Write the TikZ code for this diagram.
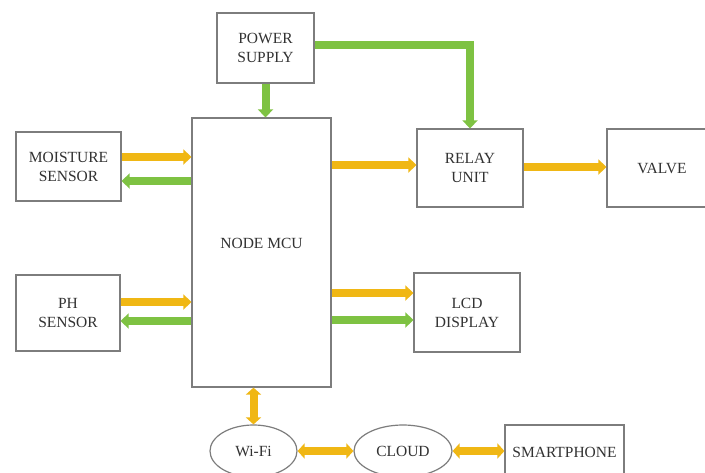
\documentclass[tikz,border=0pt]{standalone}
\usepackage{fontspec}
\setmainfont{Liberation Serif}
\usetikzlibrary{arrows.meta,shapes.geometric}
\definecolor{arrorange}{RGB}{240,183,20}
\definecolor{arrgreen}{RGB}{126,194,66}
\definecolor{boxgray}{RGB}{125,125,125}
\definecolor{txtgray}{RGB}{50,50,50}
\tikzset{
  blk/.style={draw=boxgray, line width=1.2pt, fill=white, inner sep=0pt, align=center,
    text=txtgray, font=\fontsize{15.5}{19}\selectfont},
  ell/.style={ellipse, draw=boxgray, line width=1.2pt, fill=white, inner sep=0pt,
    text=txtgray, font=\fontsize{15.5}{19}\selectfont},
  lbl/.style={text=txtgray, font=\fontsize{15.5}{19}\selectfont, inner sep=0pt},
  oarr/.style={draw=arrorange, line width=8pt, -{Triangle[width=15pt,length=8pt]}},
  garr/.style={draw=arrgreen, line width=8pt, -{Triangle[width=15pt,length=8pt]}},
  odbl/.style={draw=arrorange, line width=8pt, {Triangle[width=15pt,length=7pt]}-{Triangle[width=15pt,length=7pt]}},
}
\begin{document}
\begin{tikzpicture}[x=1pt,y=-1pt]
\useasboundingbox (0,0) rectangle (705,472);
\clip (0,0) rectangle (705,472);
\fill[white] (0,0) rectangle (705,472);

% blocks
\node[blk, minimum width=97pt, minimum height=70pt] (power) at (265.5,48) {POWER\\SUPPLY};
\node[blk, minimum width=139pt, minimum height=269pt] (mcu) at (261.5,252.5) {};
\node[lbl] (mcutxt) at (261.5,243) {NODE MCU};
\node[blk, minimum width=105pt, minimum height=69pt] (moist) at (68.5,166.5) {MOISTURE\\SENSOR};
\node[blk, minimum width=104pt, minimum height=76pt] (ph) at (68,313) {PH\\SENSOR};
\node[blk, minimum width=106pt, minimum height=78pt] (relay) at (470,168) {RELAY\\UNIT};
\node[blk, minimum width=110pt, minimum height=78pt] (valve) at (662,168) {VALVE};
\node[blk, minimum width=106pt, minimum height=79pt] (lcd) at (467,312.5) {LCD\\DISPLAY};
\node[ell, minimum width=87pt, minimum height=52pt] (wifi) at (253.5,451) {Wi-Fi};
\node[ell, minimum width=98pt, minimum height=52pt] (cloud) at (403,451) {CLOUD};
\node[blk, minimum width=119pt, minimum height=60pt, text depth=0pt] (phone) at (564.5,455) {};
\node[lbl] (phonetxt) at (564.5,452) {SMARTPHONE};

% connectors
\draw[oarr] ([yshift=9.5pt]moist.east) -- ([yshift=9.5pt]moist.east -| mcu.west);
\draw[garr] ([yshift=-14.5pt]moist.east -| mcu.west) -- ([yshift=-14.5pt]moist.east);
\draw[oarr] ([yshift=11pt]ph.east) -- ([yshift=11pt]ph.east -| mcu.west);
\draw[garr] ([yshift=-8pt]ph.east -| mcu.west) -- ([yshift=-8pt]ph.east);
\draw[garr] (power.south) -- (power.south |- mcu.north);
\draw[garr] ([yshift=3pt]power.east) -| (relay.north);
\draw[oarr] ([yshift=3pt]relay.west -| mcu.east) -- ([yshift=3pt]relay.west);
\draw[oarr] ([yshift=1pt]relay.east) -- ([yshift=1pt]valve.west);
\draw[oarr] ([yshift=19.5pt]lcd.west -| mcu.east) -- ([yshift=19.5pt]lcd.west);
\draw[garr] ([yshift=-7.5pt]lcd.west -| mcu.east) -- ([yshift=-7.5pt]lcd.west);
\draw[odbl] (wifi.north |- mcu.south) -- (wifi.north);
\draw[odbl] (wifi.east) -- (cloud.west);
\draw[odbl] (cloud.east) -- (cloud.east -| phone.west);
\end{tikzpicture}
\end{document}
